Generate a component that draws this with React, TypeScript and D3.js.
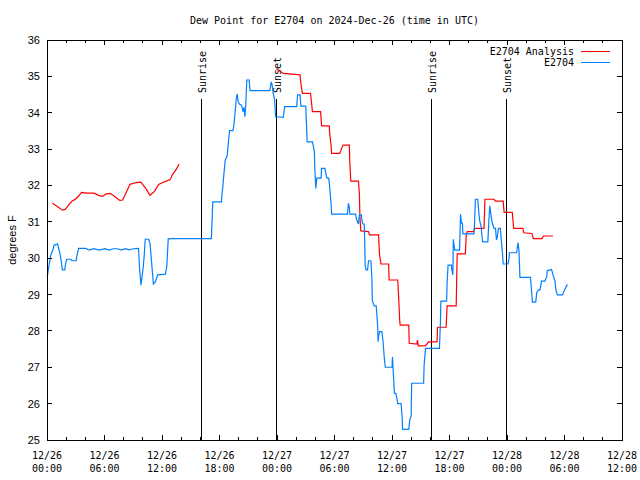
import * as d3 from 'd3';

// hours since 2024-12-26 00:00 UTC, dew point (F)
const observed: [number, number][] = [
  [0.03, 29.49], [0.2, 29.79], [0.4, 30.09], [0.6, 30.22], [0.75, 30.36], [1.1, 30.39], [1.35, 30.13],
  [1.5, 29.9], [1.6, 29.68], [1.85, 29.68], [1.95, 29.86], [2.05, 29.97], [2.5, 29.97], [2.6, 29.93],
  [3.05, 29.93], [3.1, 30.04], [3.3, 30.27], [4.05, 30.27], [4.4, 30.22], [4.9, 30.26], [5.45, 30.22],
  [6.05, 30.26], [6.5, 30.22], [6.9, 30.26], [7.35, 30.26], [7.75, 30.22], [8.15, 30.26], [8.6, 30.23],
  [9.0, 30.26], [9.55, 30.27], [9.65, 29.77], [9.8, 29.26], [9.9, 29.45], [10.05, 29.77], [10.15, 30.09],
  [10.25, 30.52], [10.6, 30.52], [10.75, 30.41], [10.95, 29.77], [11.1, 29.29], [11.3, 29.35],
  [11.55, 29.54], [12.35, 29.56], [12.5, 29.77], [12.65, 30.53], [13.05, 30.54], [17.15, 30.54],
  [17.3, 31.55], [18.2, 31.55], [18.25, 31.74], [18.35, 31.97], [18.45, 32.29], [18.6, 32.7],
  [18.8, 32.81], [18.95, 33.25], [19.05, 33.51], [19.4, 33.51], [19.5, 33.66], [19.65, 34.07],
  [19.75, 34.4], [19.85, 34.51], [19.95, 34.3], [20.1, 34.23], [20.3, 34.21], [20.45, 34.03],
  [20.55, 34.15], [20.65, 33.89], [20.75, 34.26], [20.85, 34.9], [21.1, 34.9], [21.15, 34.71],
  [21.2, 34.61], [23.25, 34.61], [23.4, 34.85], [23.5, 34.75], [23.6, 34.53], [23.75, 34.37],
  [23.85, 33.89], [24.65, 33.87], [24.8, 34.17], [26.05, 34.17], [26.15, 34.49], [26.4, 34.49],
  [26.5, 34.18], [27.0, 34.18], [27.15, 33.2], [27.7, 33.2], [27.9, 32.93], [27.95, 32.43],
  [28.05, 31.92], [28.15, 32.2], [28.6, 32.2], [28.65, 32.47], [29.0, 32.47], [29.1, 32.33],
  [29.2, 32.2], [29.4, 32.2], [29.5, 31.95], [29.65, 31.46], [29.7, 31.21], [31.35, 31.21],
  [31.45, 31.51], [31.55, 31.4], [31.6, 31.21], [32.2, 31.21], [32.3, 31.07], [32.5, 30.94],
  [32.6, 31.19], [32.8, 31.19], [32.85, 31.05], [32.95, 30.94], [33.1, 30.94], [33.15, 30.5],
  [33.2, 29.81], [33.3, 29.68], [33.45, 29.68], [33.55, 29.93], [33.8, 29.93], [33.9, 29.46],
  [33.95, 28.83], [34.15, 28.69], [34.35, 28.69], [34.5, 28.16], [34.55, 27.7], [34.6, 27.84],
  [34.7, 27.98], [34.95, 27.98], [35.05, 27.75], [35.2, 27.25], [35.3, 27.0], [36.0, 27.0],
  [36.05, 27.28], [36.15, 26.79], [36.25, 26.28], [36.4, 26.28], [36.5, 26.15], [36.6, 26.0],
  [36.95, 26.0], [37.05, 25.66], [37.1, 25.29], [37.75, 25.29], [37.85, 25.55], [38.0, 25.66],
  [38.05, 26.56], [39.3, 26.56], [39.35, 27.06], [39.5, 27.52], [40.95, 27.52], [41.05, 28.21],
  [41.1, 28.82], [41.7, 28.82], [41.75, 29.31], [41.85, 29.81], [42.2, 29.81], [42.25, 29.68],
  [42.35, 29.54], [42.4, 30.52], [42.45, 30.41], [42.55, 30.22], [43.05, 30.22], [43.15, 31.21],
  [43.25, 30.96], [43.35, 30.96], [43.4, 30.67], [44.55, 30.67], [44.6, 30.87], [44.7, 31.62],
  [44.95, 31.62], [45.05, 31.28], [45.15, 31.03], [45.3, 30.87], [45.45, 30.45], [46.0, 30.45],
  [46.1, 30.98], [46.2, 31.44], [46.3, 31.24], [46.45, 30.98], [46.65, 30.82], [46.8, 30.82],
  [46.9, 30.5], [47.0, 30.6], [47.1, 30.82], [47.3, 30.82], [47.45, 30.36], [47.55, 30.06],
  [47.6, 29.84], [48.1, 29.84], [48.2, 29.97], [48.25, 30.15], [49.0, 30.15], [49.15, 30.43],
  [49.25, 30.2], [49.35, 29.47], [50.45, 29.47], [50.55, 29.14], [50.65, 28.79], [51.0, 28.79],
  [51.1, 29.05], [51.3, 29.13], [51.45, 29.13], [51.6, 29.37], [51.95, 29.37], [52.15, 29.49],
  [52.2, 29.66], [52.65, 29.69], [52.8, 29.54], [53.0, 29.38], [53.1, 29.14], [53.25, 28.99],
  [53.8, 28.99], [53.95, 29.1], [54.3, 29.28],
];

// null = gap in the analysis
const analysis: [number, number | null][] = [
  [0.56, 31.51], [1.08, 31.42], [1.6, 31.32], [1.9, 31.34], [2.3, 31.48], [2.65, 31.58], [2.9, 31.61],
  [3.3, 31.71], [3.6, 31.81], [4.2, 31.79], [4.9, 31.79], [5.45, 31.72], [5.8, 31.7], [6.1, 31.76],
  [6.6, 31.78], [6.85, 31.74], [7.4, 31.63], [7.6, 31.59], [7.9, 31.6], [8.3, 31.83], [8.66, 32.03],
  [9.3, 32.08], [9.8, 32.09], [10.3, 31.92], [10.75, 31.73], [11.2, 31.83], [11.65, 32.03],
  [12.25, 32.1], [12.85, 32.16], [13.1, 32.3], [13.5, 32.45], [13.8, 32.59],
  [18.0, null],
  [23.95, 35.2], [24.1, 35.19], [24.65, 35.08], [25.6, 35.06], [26.4, 35.04], [26.5, 34.79],
  [26.65, 34.53], [27.5, 34.53], [27.6, 34.28], [27.7, 34.03], [28.55, 34.03], [28.65, 33.64],
  [29.45, 33.64], [29.5, 33.43], [29.65, 33.07], [29.7, 32.88], [30.55, 32.88], [30.75, 33.02],
  [30.9, 33.11], [31.55, 33.11], [31.6, 32.61], [31.7, 32.12], [32.5, 32.12], [32.6, 31.76],
  [32.65, 31.14], [32.75, 30.75], [33.55, 30.73], [33.65, 30.64], [34.6, 30.64], [34.7, 30.09],
  [34.85, 29.84], [35.65, 29.84], [35.7, 29.4], [36.6, 29.4], [36.7, 28.9], [36.8, 28.3],
  [36.85, 28.16], [37.75, 28.16], [37.8, 27.66], [38.6, 27.64], [38.65, 27.75], [38.75, 27.59],
  [39.45, 27.59], [39.65, 27.64], [39.8, 27.7], [40.7, 27.7], [40.75, 28.1], [41.65, 28.1],
  [41.75, 28.69], [42.7, 28.69], [42.75, 29.42], [42.8, 30.12], [43.65, 30.12], [43.75, 30.64],
  [43.85, 30.73], [44.55, 30.73], [44.6, 30.82], [45.6, 30.82], [45.7, 31.62], [46.65, 31.62],
  [46.8, 31.57], [47.6, 31.57], [47.7, 31.26], [48.55, 31.26], [48.7, 30.82], [49.65, 30.82],
  [49.75, 30.7], [50.6, 30.68], [50.75, 30.54], [51.65, 30.54], [51.8, 30.61], [52.8, 30.61],
];

const sunLabels = ['Sunrise', 'Sunset', 'Sunrise', 'Sunset'];
const sunHours = [16.03, 23.87, 40.03, 47.87];

const yTicks = d3.range(25, 37);
const xMajorHours = d3.range(0, 61, 6);
const xMinorHours = d3.range(0, 61, 2);

const BASE = Date.UTC(2024, 11, 26);
const toDate = (h: number) => new Date(BASE + h * 3600 * 1000);

const W = 640;
const H = 480;
const m = { left: 47, right: 622, top: 40, bottom: 440 };
const MONO = '"DejaVu Sans Mono", monospace';
const SANS = '"Liberation Sans", Arial, sans-serif';
const RED = '#ff0000';
const BLUE = '#0080ff';

export default function App() {
  const x = d3.scaleUtc().domain([toDate(0), toDate(60)]).range([m.left, m.right]);
  const y = d3.scaleLinear().domain([25, 36]).range([m.bottom, m.top]);

  const line = d3
    .line<[number, number | null]>()
    .defined((d) => d[1] != null)
    .x((d) => x(toDate(d[0])))
    .y((d) => y(d[1] as number));

  const fmtDay = d3.utcFormat('%m/%d');
  const fmtTime = d3.utcFormat('%H:%M');

  return (
    <svg width={W} height={H} style={{ position: 'absolute', left: 0, top: 0, background: '#fff' }}>
      <text x={(m.left + m.right) / 2} y={24} textAnchor="middle" fontFamily={MONO} fontSize={10}>
        Dew Point for E2704 on 2024-Dec-26 (time in UTC)
      </text>

      {/* sunrise / sunset markers */}
      {sunHours.map((h, i) => {
        const sx = Math.round(x(toDate(h))) + 0.5;
        return (
          <g key={i}>
            <line x1={sx} x2={sx} y1={99} y2={m.bottom} stroke="#000" strokeWidth={1} />
            <text
              transform={`translate(${sx + 1},93) rotate(-90)`}
              fontFamily={MONO}
              fontSize={10}
              dominantBaseline="central"
            >
              {sunLabels[i]}
            </text>
          </g>
        );
      })}

      <path d={line(analysis) || ''} fill="none" stroke={RED} strokeWidth={1.2} />
      <path d={line(observed) || ''} fill="none" stroke={BLUE} strokeWidth={1.2} />

      {/* frame and ticks */}
      <g shapeRendering="crispEdges" stroke="#000" strokeWidth={1}>
        <rect x={m.left} y={m.top} width={m.right - m.left} height={m.bottom - m.top} fill="none" />
        {xMinorHours.map((h) => {
          const tx = x(toDate(h));
          const len = h % 6 === 0 ? 5 : 3;
          return (
            <g key={h}>
              <line x1={tx} x2={tx} y1={m.bottom} y2={m.bottom - len} />
              <line x1={tx} x2={tx} y1={m.top} y2={m.top + len} />
            </g>
          );
        })}
        {yTicks.map((v) => (
          <g key={v}>
            <line x1={m.left} x2={m.left + 5} y1={y(v)} y2={y(v)} />
            <line x1={m.right} x2={m.right - 5} y1={y(v)} y2={y(v)} />
          </g>
        ))}
      </g>

      {yTicks.map((v) => (
        <text key={v} x={40} y={y(v)} textAnchor="end" dominantBaseline="central" fontFamily={SANS} fontSize={11}>
          {v}
        </text>
      ))}

      {xMajorHours.map((h) => {
        const d = toDate(h);
        return (
          <text key={h} x={x(d)} textAnchor="middle" fontFamily={MONO} fontSize={10}>
            <tspan x={x(d)} y={459}>{fmtDay(d)}</tspan>
            <tspan x={x(d)} y={472}>{fmtTime(d)}</tspan>
          </text>
        );
      })}

      <text
        transform={`translate(12,${(m.top + m.bottom) / 2}) rotate(-90)`}
        textAnchor="middle"
        dominantBaseline="central"
        fontFamily={SANS}
        fontSize={11}
      >
        degrees F
      </text>

      {/* legend */}
      <g fontFamily={MONO} fontSize={10}>
        <text x={574} y={51} textAnchor="end" dominantBaseline="central">E2704 Analysis</text>
        <line x1={581} x2={610} y1={51.5} y2={51.5} stroke={RED} />
        <text x={574} y={62} textAnchor="end" dominantBaseline="central">E2704</text>
        <line x1={581} x2={610} y1={62.5} y2={62.5} stroke={BLUE} />
      </g>
    </svg>
  );
}
